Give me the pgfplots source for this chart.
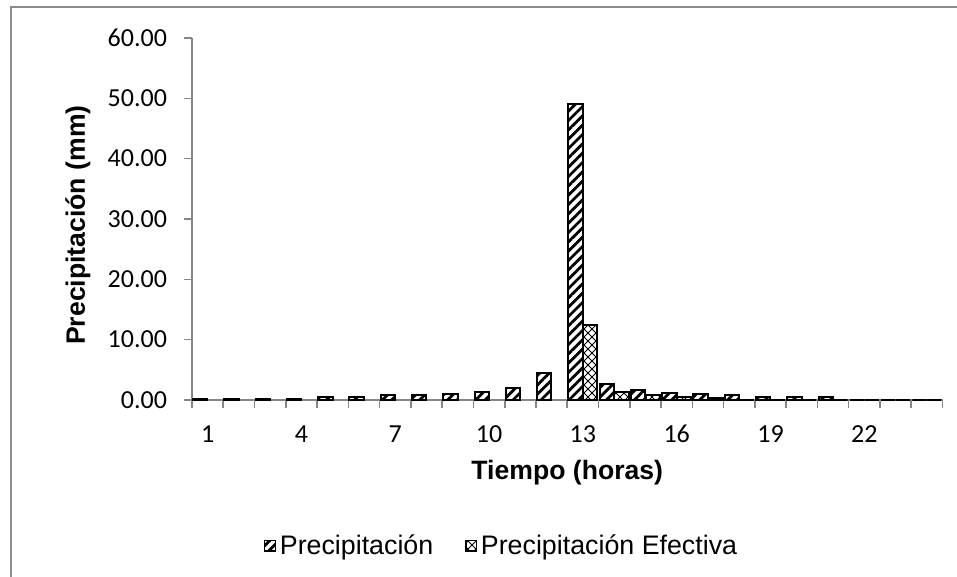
\documentclass[border=0pt]{standalone}
\usepackage{pgfplots}
\pgfplotsset{compat=1.18}
\usepackage{fontspec}
\setmainfont{Carlito}
\newfontfamily\arial{Liberation Sans}
\usetikzlibrary{patterns.meta}
\definecolor{axisgray}{RGB}{134,134,134}
\definecolor{framegray}{RGB}{140,140,140}

\tikzdeclarepattern{
  name=diagcross,
  type=uncolored,
  bounding box={(-0.5pt,-0.5pt) and (4.5pt,4.5pt)},
  tile size={(4pt,4pt)},
  code={
    \pgfsetlinewidth{0.45pt}
    \pgfpathmoveto{\pgfpoint{0pt}{0pt}}\pgfpathlineto{\pgfpoint{4pt}{4pt}}
    \pgfpathmoveto{\pgfpoint{0pt}{4pt}}\pgfpathlineto{\pgfpoint{4pt}{0pt}}
    \pgfusepath{stroke}
  }
}

\pgfplotsset{
  mylegend/.style={legend image code/.code={
    \draw[##1, line width=0.6pt] (0pt,-2.6pt) rectangle (5.2pt,2.6pt);}},
}

\begin{document}
\begin{tikzpicture}
\useasboundingbox (0,0) rectangle (478.5pt,288.5pt);
\draw[color=framegray, line width=1pt] (5.5pt,-10pt) -- (5.5pt,285pt) -- (500pt,285pt);
\begin{axis}[
  at={(96pt,88.5pt)}, anchor=south west,
  scale only axis, width=375.25pt, height=181pt,
  xmin=0.5, xmax=24.5, ymin=0, ymax=60,
  clip=false,
  axis x line*=bottom, axis y line*=left,
  axis line style={draw=axisgray, line width=0.8pt, -},
  tick align=outside,
  major tick length=9pt, minor tick length=4pt,
  xtick={1,4,7,10,13,16,19,22},
  xticklabels={},
  minor xtick={0.5,1.5,2.5,3.5,4.5,5.5,6.5,7.5,8.5,9.5,10.5,11.5,12.5,13.5,14.5,15.5,16.5,17.5,18.5,19.5,20.5,21.5,22.5,23.5,24.5},
  ytick={0,10,20,30,40,50,60},
  minor ytick={0,10,20,30,40,50,60},
  every major tick/.append style={draw=none},
  every minor tick/.append style={draw=axisgray, line width=0.8pt},
  tick label style={font=\fontsize{13}{15}\selectfont, text=black},
  /pgf/number format/assume math mode=true,
  yticklabel style={/pgf/number format/.cd, fixed, fixed zerofill, precision=2},
  xlabel={Tiempo (horas)},
  ylabel={Precipitación (mm)},
  label style={font=\arial\bfseries\fontsize{13.3}{15}\selectfont},
  xlabel style={at={(axis description cs:0.5,-0.2017)}, anchor=center},
  ylabel style={at={(axis description cs:-0.1519,0.483)}, anchor=center},
  legend style={at={(axis description cs:0.414,-0.403)}, anchor=center, draw=none,
    legend columns=2, font=\arial\fontsize{13.4}{15}\selectfont,
    /tikz/every even column/.append style={column sep=14pt}},
  legend cell align=left,
]
\addplot[ybar, mylegend, bar width=0.46, bar shift=-0.235, draw=black, line width=1pt,
  pattern={Lines[angle=45,distance=3.3pt,line width=1.4pt]}, pattern color=black]
  coordinates {
  (1,0.1) (2,0.1) (3,0.1) (4,0.1) (5,0.55) (6,0.55) (7,0.8) (8,0.8)
  (9,1.05) (10,1.4) (11,2.0) (12,4.4) (13,49.0) (14,2.7) (15,1.6) (16,1.2)
  (17,1.0) (18,0.8) (19,0.55) (20,0.55) (21,0.55) (22,0) (23,0) (24,0)
  };
\addplot[ybar, mylegend, bar width=0.46, bar shift=0.235, draw=black, line width=1pt,
  pattern=diagcross, pattern color=black]
  coordinates {
  (13,12.4) (14,1.4) (15,0.8) (16,0.5) (17,0.4) (18,0) (19,0) (20,0)
  (21,0) (22,0) (23,0) (24,0)
  };
\legend{Precipitación, Precipitación Efectiva}
\pgfplotsinvokeforeach{1,4,7,10,13,16,19,22}{
  \node[font=\fontsize{13}{15}\selectfont, anchor=center, yshift=-17pt] at (axis cs:#1,0) {#1};
}
\end{axis}
\end{tikzpicture}
\end{document}
